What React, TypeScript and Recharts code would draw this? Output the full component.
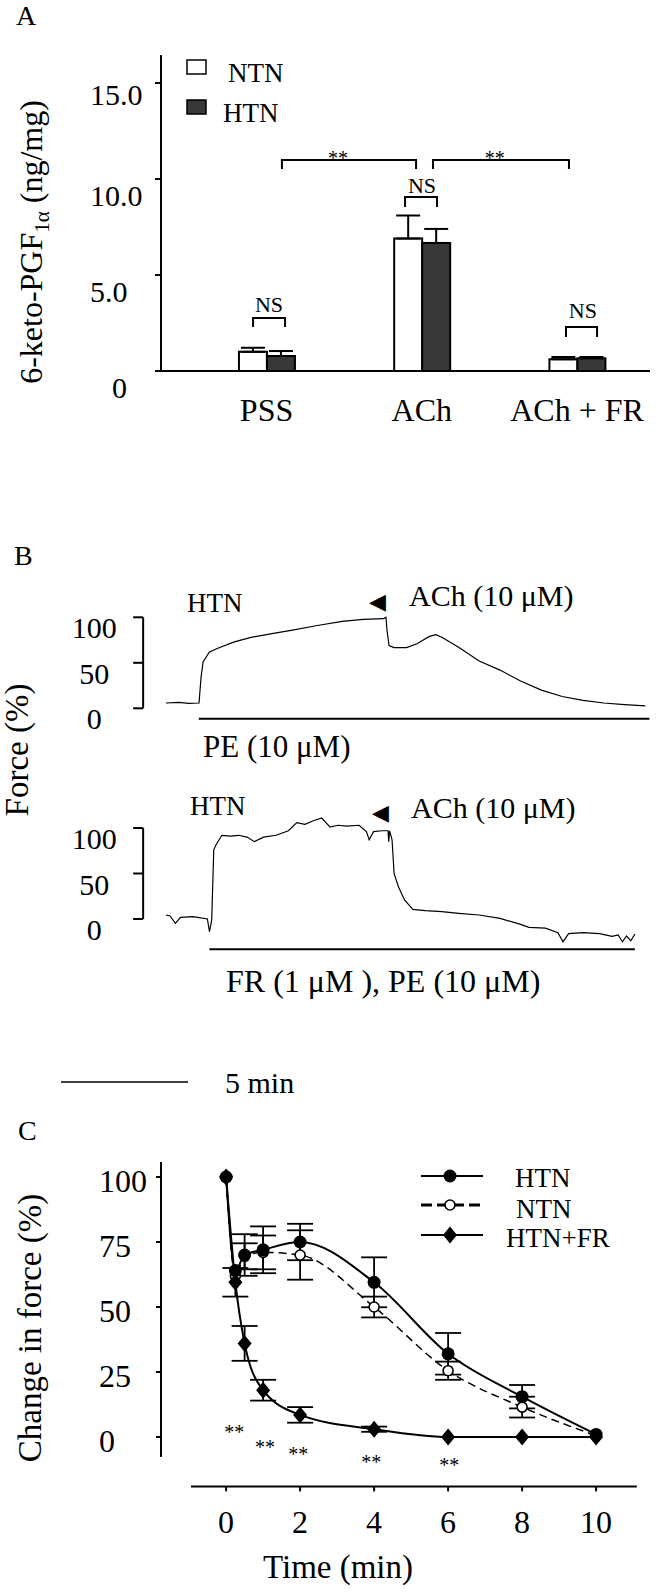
import React from 'react';
import {
  ComposedChart,
  LineChart,
  Bar,
  Line,
  ErrorBar,
  XAxis,
  YAxis,
  ReferenceLine,
  ReferenceDot,
  Legend,
} from 'recharts';

const SERIF = "'Liberation Serif', 'Times New Roman', Times, serif";
const INK = '#000';

// ---------- panel A: 6-keto-PGF1a (ng/mg) ----------
const groups = ['PSS', 'ACh', 'ACh + FR'];
const groupPos = [1, 2, 3];
const ntnPgf = [1.0, 6.9, 0.61];
const ntnPgfSem = [0.21, 1.2, 0.12];
const htnPgf = [0.78, 6.67, 0.66];
const htnPgfSem = [0.26, 0.73, 0.07];
const pgfTicks = [0, 5, 10, 15];

// significance brackets, in group units / ng/mg
const bracketFrom = [0.913, 1.892, 2.929, 1.099, 2.072];
const bracketTo = [1.119, 2.098, 3.129, 1.963, 2.948];
const bracketTop = [2.76, 9.06, 2.29, 10.99, 10.99];
const bracketFoot = [2.29, 8.54, 1.77, 10.52, 10.52];
const bracketText = ['NS', 'NS', 'NS', '**', '**'];
const bracketTextX = [1.016, 2.001, 3.038, 1.46, 2.47];
const bracketTextY = [3.07, 9.27, 2.76, 10.73, 10.73];

// ---------- panel B: force traces (min from start of trace, % force) ----------
const peTime = [0, 0.5, 0.9, 1.3, 1.38, 1.46, 1.71, 2.04, 2.69, 3.35, 4.17, 4.98, 5.96, 6.94, 7.76, 8.57, 8.66, 8.7, 8.78, 8.98, 9.47, 9.88, 10.37, 10.62, 10.86, 11.52, 12.33, 13.15, 13.96, 14.78, 15.6, 16.42, 17.23, 18.05, 18.87];
const peForce = [5.8, 6.5, 5.5, 5.8, 34, 51, 62, 66, 73, 78, 82, 86, 91, 95.6, 97.8, 98.5, 100, 86, 69, 66.7, 66.7, 71, 79, 81, 78, 67, 52, 42, 30, 20, 13, 8.8, 5.8, 4, 2.6];
const frTime = [0, 0.16, 0.37, 0.57, 1.06, 1.63, 1.71, 1.8, 1.88, 1.96, 2.2, 2.53, 2.86, 3.19, 3.48, 3.84, 4.33, 4.82, 5.15, 5.47, 5.8, 6.13, 6.46, 6.77, 7.11, 7.6, 7.89, 8.0, 8.17, 8.49, 8.74, 8.77, 8.8, 8.9, 8.98, 9.15, 9.39, 9.72, 10.21, 10.86, 11.52, 12.33, 13.15, 13.96, 14.29, 14.94, 15.43, 15.63, 15.85, 16.42, 17.07, 17.56, 17.8, 17.97, 18.13, 18.3, 18.46];
const frForce = [4.4, 3.3, -4.8, 1.8, 2.6, 0, -14, -1, 76, 81, 92, 91, 92, 90, 85, 90, 92, 97, 106, 104, 108, 111, 101, 103, 102, 103, 96, 87, 96, 97, 97, 85, 97, 87, 50, 35.5, 21, 10.6, 9.1, 8, 6.2, 4.4, 0.7, -5.9, -9.2, -10, -15, -25, -16, -15, -16, -19, -17.6, -25, -18.7, -24, -16.5];
const forceTicks = [0, 50, 100];
const peBar = [1.29, 19.03];
const peBarLevel = -11.6;
const frBar = [1.71, 18.46];
const frBarLevel = -33.3;
const scaleBarMinutes = [0, 5];

// ---------- panel C: change in force (%) ----------
const sampleTimes = [0, 0.25, 0.5, 1, 2, 4, 6, 8, 10];
const htnChange = [100, 64, 70, 72, 75, 59.5, 32, 15.5, 1];
const htnChangeSem = [0, 0, 8, 9, 7, 9.6, 8, 4.5, 0];
const ntnChange = [100, 62, 69.5, 71, 70, 50, 25.5, 11.5, 0.5];
const ntnChangeSem = [0, 0, 5, 6.5, 9.5, 4, 3.5, 4, 0];
const frChange = [100, 59.5, 36, 18, 8.5, 3, 0, 0, 0];
const frChangeSem = [0, 5.5, 6.7, 4, 3, 1, 0, 0, 0];
const timeTicks = [0, 2, 4, 6, 8, 10];
const changeTicks = [0, 25, 50, 75, 100];
const starTimes = [0.22, 1.05, 1.95, 3.92, 6.03];
const starLevels = [-0.8, -6.5, -9.2, -12.3, -13.4];

const textProps = { style: { fontFamily: SERIF }, fill: INK };

const pgfTick = (p: any) => {
  const v = p.payload.value;
  return (
    <text x={v === 0 ? p.x - 41 : p.x - 63} y={p.y + (v === 15 ? 22 : 27)} textAnchor="start" fontSize={30} {...textProps}>
      {v === 0 ? '0' : v.toFixed(1)}
    </text>
  );
};

const groupTick = (p: any) => (
  <text x={p.x} y={p.y + 42} textAnchor="middle" fontSize={32} {...textProps}>
    {groups[groupPos.indexOf(p.payload.value)]}
  </text>
);

const forceTick = (p: any) => (
  <text x={p.x - 37} y={p.y + 21} textAnchor="middle" fontSize={30} {...textProps}>
    {p.payload.value}
  </text>
);

const timeTick = (p: any) => (
  <text x={p.x} y={p.y + 40} textAnchor="middle" fontSize={32} {...textProps}>
    {p.payload.value}
  </text>
);

const changeTick = (p: any) => (
  <text x={p.x - 55} y={p.y + 15} textAnchor="start" fontSize={32} {...textProps}>
    {p.payload.value}
  </text>
);

const seg = { stroke: INK, strokeWidth: 2, ifOverflow: 'visible' as const };

function PanelA() {
  const rows = groupPos.map((x, i) => ({
    x,
    ntn: ntnPgf[i],
    ntnErr: [0, ntnPgfSem[i]],
    htn: htnPgf[i],
    htnErr: [0, htnPgfSem[i]],
  }));
  return (
    <ComposedChart width={657} height={440} data={rows} barGap={0} margin={{ top: 55, right: 7, bottom: 0, left: 0 }}>
      <XAxis dataKey="x" type="number" domain={[0.32, 3.47]} ticks={groupPos} interval={0} allowDataOverflow height={69}
        axisLine={{ stroke: INK, strokeWidth: 2 }} tickLine={false} tickSize={6} tick={groupTick} />
      <YAxis type="number" domain={[0, 16.46]} ticks={pgfTicks} interval={0} allowDataOverflow width={161}
        axisLine={{ stroke: INK, strokeWidth: 2 }} tickLine={{ stroke: INK, strokeWidth: 2 }} tickSize={6} tick={pgfTick} />
      <Bar dataKey="ntn" barSize={28} fill="#fff" stroke={INK} strokeWidth={2} isAnimationActive={false}>
        <ErrorBar dataKey="ntnErr" width={12} stroke={INK} strokeWidth={2} direction="y" isAnimationActive={false} />
      </Bar>
      <Bar dataKey="htn" barSize={28} fill="#383838" stroke={INK} strokeWidth={2} isAnimationActive={false}>
        <ErrorBar dataKey="htnErr" width={12} stroke={INK} strokeWidth={2} direction="y" isAnimationActive={false} />
      </Bar>
      {bracketFrom.map((x1, i) => [
        <ReferenceLine key={`l${i}`} segment={[{ x: x1, y: bracketFoot[i] }, { x: x1, y: bracketTop[i] }]} {...seg} />,
        <ReferenceLine key={`m${i}`} segment={[{ x: x1, y: bracketTop[i] }, { x: bracketTo[i], y: bracketTop[i] }]} {...seg} strokeLinecap="square" />,
        <ReferenceLine key={`r${i}`} segment={[{ x: bracketTo[i], y: bracketTop[i] }, { x: bracketTo[i], y: bracketFoot[i] }]} {...seg} />,
      ])}
      {bracketText.map((s, i) => (
        <ReferenceDot key={`t${i}`} x={bracketTextX[i]} y={bracketTextY[i]} r={0} ifOverflow="visible"
          shape={(p: any) => (
            <text x={p.cx} y={p.cy} textAnchor="middle" fontSize={s === 'NS' ? 22 : 20} {...textProps}>{s}</text>
          )} />
      ))}
      <Legend layout="vertical" align="center" verticalAlign="middle"
        wrapperStyle={{ left: 0, top: 0, width: 657, height: 140, margin: 0 }}
        content={() => (
          <svg width={657} height={140}>
            <rect x={187} y={60} width={19} height={14} fill="#fff" stroke={INK} strokeWidth={1.5} />
            <text x={228} y={82} fontSize={27} {...textProps}>NTN</text>
            <rect x={187} y={100} width={19} height={14} fill="#383838" stroke={INK} strokeWidth={1.5} />
            <text x={223} y={122} fontSize={27} {...textProps}>HTN</text>
          </svg>
        )} />
    </ComposedChart>
  );
}

function TraceChart({ times, forces, domain, height, top, bottom, bar, barLevel }: any) {
  const rows = times.map((t: number, i: number) => ({ t, f: forces[i] }));
  return (
    <LineChart width={657} height={height} data={rows} margin={{ top, right: 0.78, bottom, left: 0 }}>
      <XAxis dataKey="t" type="number" domain={[-0.9, 19.3]} allowDataOverflow hide />
      <YAxis type="number" domain={domain} ticks={forceTicks} interval={0} allowDataOverflow width={143.14}
        axisLine={false} tickSize={10} tickLine={{ stroke: INK, strokeWidth: 2 }} tick={forceTick} />
      <ReferenceLine segment={[{ x: -0.9, y: 0 }, { x: -0.9, y: 100 }]} {...seg} />
      <ReferenceLine segment={[{ x: bar[0], y: barLevel }, { x: bar[1], y: barLevel }]} {...seg} />
      <Line dataKey="f" type="linear" stroke={INK} strokeWidth={1.2} dot={false} isAnimationActive={false} />
    </LineChart>
  );
}

function TimeScale() {
  const rows = scaleBarMinutes.map((t) => ({ t, y: 0 }));
  return (
    <LineChart width={657} height={24} data={rows} margin={{ top: 0, right: 83, bottom: 0, left: 61 }}>
      <XAxis dataKey="t" type="number" domain={[0, 20.2]} allowDataOverflow hide />
      <YAxis type="number" domain={[-1, 1]} allowDataOverflow hide />
      <Line dataKey="y" stroke={INK} strokeWidth={1.5} dot={false} isAnimationActive={false} />
    </LineChart>
  );
}

const filledDot = (p: any) => <circle key={`f${p.index}`} cx={p.cx} cy={p.cy} r={6.5} fill={INK} />;
const openDot = (p: any) => (
  <circle key={`o${p.index}`} cx={p.cx} cy={p.cy} r={5} fill="#fff" stroke={INK} strokeWidth={1.6} />
);
const diamondDot = (p: any) => (
  <polygon key={`d${p.index}`} fill={INK}
    points={`${p.cx},${p.cy - 8.5} ${p.cx + 7},${p.cy} ${p.cx},${p.cy + 8.5} ${p.cx - 7},${p.cy}`} />
);

function PanelC() {
  const toRows = (vals: number[], errs: number[]) => sampleTimes.map((t, i) => ({ t, v: vals[i], e: errs[i] }));
  const htnRows = toRows(htnChange, htnChangeSem);
  const ntnRows = toRows(ntnChange, ntnChangeSem);
  const frRows = toRows(frChange, frChangeSem);
  return (
    <LineChart width={657} height={492} margin={{ top: 61.4, right: 5.4, bottom: 0, left: 0 }}>
      <XAxis dataKey="t" type="number" domain={[-1.76, 11.5]} ticks={timeTicks} interval={0} allowDataOverflow height={105.6}
        axisLine={false} tickSize={5} tickLine={{ stroke: INK, strokeWidth: 2 }} tick={timeTick} />
      <YAxis type="number" domain={[-19, 106]} ticks={changeTicks} interval={0} allowDataOverflow width={161}
        axisLine={false} tickSize={5} tickLine={{ stroke: INK, strokeWidth: 2 }} tick={changeTick} />
      <ReferenceLine segment={[{ x: -1.76, y: -7.7 }, { x: -1.76, y: 105.8 }]} {...seg} />
      <ReferenceLine segment={[{ x: -0.95, y: -19 }, { x: 11.1, y: -19 }]} {...seg} />
      <Line data={ntnRows} dataKey="v" type="monotone" stroke={INK} strokeWidth={1.5} strokeDasharray="8 5"
        dot={openDot} isAnimationActive={false}>
        <ErrorBar dataKey="e" width={13} stroke={INK} strokeWidth={1.8} direction="y" isAnimationActive={false} />
      </Line>
      <Line data={htnRows} dataKey="v" type="monotone" stroke={INK} strokeWidth={2} dot={filledDot} isAnimationActive={false}>
        <ErrorBar dataKey="e" width={13} stroke={INK} strokeWidth={1.8} direction="y" isAnimationActive={false} />
      </Line>
      <Line data={frRows} dataKey="v" type="monotone" stroke={INK} strokeWidth={2} dot={diamondDot} isAnimationActive={false}>
        <ErrorBar dataKey="e" width={13} stroke={INK} strokeWidth={1.8} direction="y" isAnimationActive={false} />
      </Line>
      {starTimes.map((t, i) => (
        <ReferenceDot key={`s${i}`} x={t} y={starLevels[i]} r={0} ifOverflow="visible"
          shape={(p: any) => (
            <text x={p.cx} y={p.cy} textAnchor="middle" fontSize={20} {...textProps}>**</text>
          )} />
      ))}
      <Legend layout="vertical" align="center" verticalAlign="middle"
        wrapperStyle={{ left: 0, top: 0, width: 657, height: 170, margin: 0 }}
        content={() => (
          <svg width={657} height={170}>
            <line x1={421} x2={483} y1={76} y2={76} stroke={INK} strokeWidth={2} />
            <circle cx={450} cy={76} r={6.5} fill={INK} />
            <text x={515} y={87} fontSize={27} {...textProps}>HTN</text>
            <line x1={421} x2={483} y1={105} y2={105} stroke={INK} strokeWidth={3} strokeDasharray="11 5" />
            <circle cx={450} cy={105} r={5} fill="#fff" stroke={INK} strokeWidth={1.6} />
            <text x={516} y={118} fontSize={27} {...textProps}>NTN</text>
            <line x1={421} x2={483} y1={135} y2={135} stroke={INK} strokeWidth={2} />
            <polygon points="450,126.5 457,135 450,143.5 443,135" fill={INK} />
            <text x={506} y={147} fontSize={27} {...textProps}>HTN+FR</text>
          </svg>
        )} />
    </LineChart>
  );
}

export default function App() {
  return (
    <div style={{ position: 'absolute', left: 0, top: 0, width: 657, height: 1592, background: '#fff', fontFamily: SERIF }}>
      <div style={{ position: 'absolute', left: 0, top: 0 }}>
        <PanelA />
      </div>
      <div style={{ position: 'absolute', left: 0, top: 590 }}>
        <TraceChart times={peTime} forces={peForce} domain={[-25, 120]} height={150} top={9.1} bottom={8.95}
          bar={peBar} barLevel={peBarLevel} />
      </div>
      <div style={{ position: 'absolute', left: 0, top: 800 }}>
        <TraceChart times={frTime} forces={frForce} domain={[-36, 118]} height={160} top={11.62} bottom={8.24}
          bar={frBar} barLevel={frBarLevel} />
      </div>
      <div style={{ position: 'absolute', left: 0, top: 1070 }}>
        <TimeScale />
      </div>
      <div style={{ position: 'absolute', left: 0, top: 1100 }}>
        <PanelC />
      </div>
      <svg width={657} height={1592} style={{ position: 'absolute', left: 0, top: 0, pointerEvents: 'none' }}>
        <text x={16} y={25} fontSize={28} {...textProps}>A</text>
        <text x={14} y={565} fontSize={28} {...textProps}>B</text>
        <text x={18} y={1140} fontSize={28} {...textProps}>C</text>

        <text transform="translate(42,242) rotate(-90)" textAnchor="middle" fontSize={32} {...textProps}>
          6-keto-PGF<tspan fontSize={21} dy={7}>1α</tspan><tspan fontSize={32} dy={-7}> (ng/mg)</tspan>
        </text>

        <text x={187} y={612} fontSize={27} {...textProps}>HTN</text>
        <text x={369} y={609} fontSize={22} fill={INK} style={{ fontFamily: 'DejaVu Sans' }}>◀</text>
        <text x={409} y={606} fontSize={30} {...textProps}>ACh (10 μM)</text>
        <text x={203} y={757} fontSize={31} {...textProps}>PE (10 μM)</text>
        <text x={190} y={815} fontSize={27} {...textProps}>HTN</text>
        <text x={372} y={820} fontSize={22} fill={INK} style={{ fontFamily: 'DejaVu Sans' }}>◀</text>
        <text x={411} y={818} fontSize={30} {...textProps}>ACh (10 μM)</text>
        <text x={226} y={992} fontSize={32} {...textProps}>FR (1 μM ), PE (10 μM)</text>
        <text x={225} y={1093} fontSize={30} {...textProps}>5 min</text>
        <text transform="translate(28,750) rotate(-90)" textAnchor="middle" fontSize={33} {...textProps}>Force (%)</text>

        <text transform="translate(41,1328) rotate(-90)" textAnchor="middle" fontSize={33} {...textProps}>Change in force (%)</text>
        <text x={338} y={1578} textAnchor="middle" fontSize={33} {...textProps}>Time (min)</text>
      </svg>
    </div>
  );
}
